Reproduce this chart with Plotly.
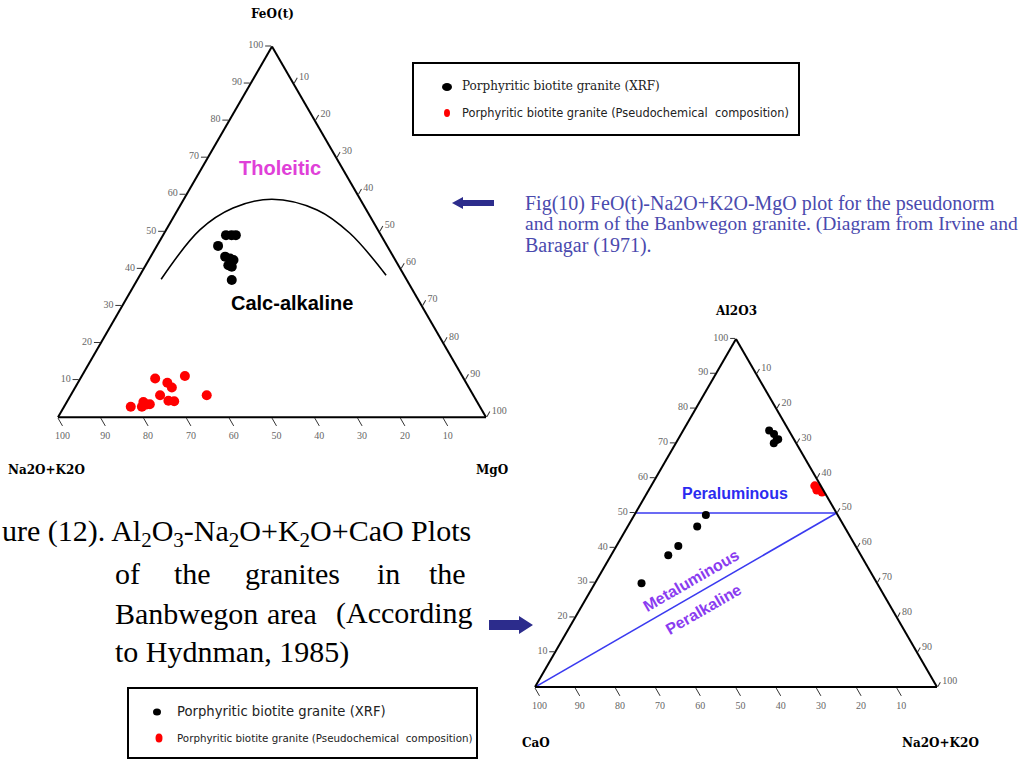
import plotly.graph_objects as go

W, H = 1032, 760

# ---------------- Diagram 1: FeO(t) - Na2O+K2O - MgO (AFM) ----------------
afm_xrf_feo = [49.1, 49.1, 49.1, 46.2, 43.3, 42.8, 42.4, 41.0, 40.6, 37.0]
afm_xrf_alk = [36.2, 34.9, 33.9, 39.5, 39.3, 38.4, 37.8, 39.7, 39.1, 40.9]
afm_xrf_mgo = [14.7, 16.0, 17.0, 14.3, 17.4, 18.8, 19.8, 19.3, 20.3, 22.1]

afm_ps_feo = [10.4, 9.3, 8.0, 11.1, 5.9, 5.9, 4.4, 4.3, 2.8, 4.1, 2.8, 3.4, 3.5]
afm_ps_alk = [72.1, 69.8, 69.4, 64.8, 62.3, 73.2, 72.0, 70.7, 81.6, 78.0, 79.0, 77.6, 76.8]
afm_ps_mgo = [17.5, 20.9, 22.6, 24.1, 31.8, 20.9, 23.6, 25.0, 15.6, 17.9, 18.2, 19.0, 19.7]

boundary_feo = [37.2, 50.5, 56.4, 58.8, 55.9, 49.6, 38.3]
boundary_alk = [57.3, 41.6, 30.9, 20.6, 11.5, 7.0, 4.2]
boundary_mgo = [5.5, 7.9, 12.7, 20.6, 32.6, 43.4, 57.5]

# ---------------- Diagram 2: Al2O3 - CaO - Na2O+K2O ----------------
acnk_xrf_al = [49.4, 46.1, 40.5, 37.9, 29.8, 73.7, 72.7, 71.0, 70.0, 71.2]
acnk_xrf_ca = [32.8, 36.6, 44.1, 47.9, 58.6, 4.9, 4.2, 4.4, 5.6, 3.9]
acnk_xrf_nk = [17.8, 17.3, 15.4, 14.2, 11.6, 21.4, 23.1, 24.6, 24.4, 24.9]

acnk_ps_al = [57.8, 56.9, 56.0, 56.6]
acnk_ps_ca = [1.5, 0.9, 0.6, 1.6]
acnk_ps_nk = [40.7, 42.2, 43.4, 41.8]

peralum_al = [50, 50]
peralum_ca = [50, 0]
peralum_nk = [0, 50]

peralk_al = [0, 50]
peralk_ca = [100, 0]
peralk_nk = [0, 50]

tick_values = [10, 20, 30, 40, 50, 60, 70, 80, 90, 100]

legend_labels = ["Porphyritic biotite granite (XRF)",
                 "Porphyritic biotite granite (Pseudochemical  composition)"]


def px(x):
    return x / W


def py(y):
    return 1 - y / H


def tern_axis(ticklen):
    return dict(
        title=dict(text=""), min=0,
        tickmode="array", tickvals=tick_values,
        ticks="outside", ticklen=ticklen, tickwidth=1, tickcolor="#333",
        tickfont=dict(family="Liberation Serif", size=10, color="#666"),
        showgrid=False, showline=True, linecolor="black", linewidth=2,
    )


fig = go.Figure()

# Diagram 1 traces
fig.add_trace(go.Scatterternary(
    a=boundary_feo, b=boundary_alk, c=boundary_mgo, mode="lines",
    line=dict(color="black", width=1.6, shape="spline"), subplot="ternary",
    hoverinfo="skip"))
fig.add_trace(go.Scatterternary(
    a=afm_xrf_feo, b=afm_xrf_alk, c=afm_xrf_mgo, mode="markers",
    marker=dict(color="black", size=10), subplot="ternary", name=legend_labels[0]))
fig.add_trace(go.Scatterternary(
    a=afm_ps_feo, b=afm_ps_alk, c=afm_ps_mgo, mode="markers",
    marker=dict(color="#ff0000", size=10), subplot="ternary", name=legend_labels[1]))

# Diagram 2 traces
for la, lb, lc in [(peralum_al, peralum_ca, peralum_nk), (peralk_al, peralk_ca, peralk_nk)]:
    fig.add_trace(go.Scatterternary(
        a=la, b=lb, c=lc, mode="lines", line=dict(color="#3a3af0", width=1.6),
        subplot="ternary2", hoverinfo="skip"))
fig.add_trace(go.Scatterternary(
    a=acnk_xrf_al, b=acnk_xrf_ca, c=acnk_xrf_nk, mode="markers",
    marker=dict(color="black", size=8), subplot="ternary2", name=legend_labels[0]))
fig.add_trace(go.Scatterternary(
    a=acnk_ps_al, b=acnk_ps_ca, c=acnk_ps_nk, mode="markers",
    marker=dict(color="#ff0000", size=9), subplot="ternary2", name=legend_labels[1]))

ann = []


def text(x, y, s, size, family="Liberation Serif", color="black", xanchor="center",
         angle=0, bold=False):
    if bold:
        s = "<b>" + s + "</b>"
    ann.append(dict(x=px(x), y=py(y), xref="paper", yref="paper", text=s,
                    showarrow=False, xanchor=xanchor, yanchor="middle",
                    textangle=angle, font=dict(family=family, size=size, color=color)))


# Axis titles
text(272, 14, "FeO(t)", 12, "DejaVu Serif", bold=True)
text(46, 470, "Na2O+K2O", 12, "DejaVu Serif", bold=True)
text(492, 470, "MgO", 12, "DejaVu Serif", bold=True)
text(736, 311, "Al2O3", 12, "DejaVu Serif", bold=True)
text(536, 743, "CaO", 12, "DejaVu Serif", bold=True)
text(940, 743, "Na2O+K2O", 12, "DejaVu Serif", bold=True)

# Region labels
text(280, 168, "Tholeitic", 20, "Liberation Sans", "#e040d8", bold=True)
text(292, 303, "Calc-alkaline", 20, "Liberation Sans", "black", bold=True)
text(735, 493, "Peraluminous", 16, "Liberation Sans", "#2b2bf0", bold=True)
text(691, 580, "Metaluminous", 16, "Liberation Sans", "#8a3cf0", angle=-30, bold=True)
text(703, 609, "Peralkaline", 16, "Liberation Sans", "#8a3cf0", angle=-30, bold=True)

# Caption of Fig. 10
cap_col = "#4a4aae"
text(523, 203, "Fig(10) FeO(t)-Na2O+K2O-MgO plot for the pseudonorm", 20,
     "Liberation Serif", cap_col, xanchor="left")
text(523, 224, "and norm of the Banbwegon granite. (Diagram from Irvine and", 19.5,
     "Liberation Serif", cap_col, xanchor="left")
text(523, 245, "Baragar (1971).", 20, "Liberation Serif", cap_col, xanchor="left")

# Caption of Figure 12 (justified)
text(0, 533, "ure (12). Al<sub>2</sub>O<sub>3</sub>-Na<sub>2</sub>O+K<sub>2</sub>O+CaO Plots",
     30, xanchor="left")
for word, x in [("of", 113), ("the", 172), ("granites", 243), ("in", 375), ("the", 427)]:
    text(x, 573, word, 30, xanchor="left")
for word, x in [("Banbwegon", 113), ("area", 265), ("(According", 334)]:
    text(x, 613, word, 30, xanchor="left")
text(113, 652, "to Hydnman, 1985)", 30, xanchor="left")

# Legend box 1 texts
text(460, 86, legend_labels[0], 12, "DejaVu Serif", "#222", xanchor="left")
text(460, 113, legend_labels[1], 11.4, "DejaVu Sans", "#222", xanchor="left")
# Legend box 2 texts
text(175, 711, legend_labels[0], 13.2, "DejaVu Sans", "#222", xanchor="left")
text(175, 738, legend_labels[1], 10.3, "DejaVu Sans", "#222", xanchor="left")

shapes = []


def rect(x0, y0, x1, y1):
    shapes.append(dict(type="rect", xref="paper", yref="paper", x0=px(x0), x1=px(x1),
                       y0=py(y1), y1=py(y0), line=dict(color="black", width=2)))


def dot(cx, cy, rx, ry, color):
    shapes.append(dict(type="circle", xref="paper", yref="paper",
                       x0=px(cx - rx), x1=px(cx + rx), y0=py(cy + ry), y1=py(cy - ry),
                       fillcolor=color, line=dict(width=0)))


def poly(points, color):
    path = "M " + " L ".join(f"{px(x):.5f},{py(y):.5f}" for x, y in points) + " Z"
    shapes.append(dict(type="path", xref="paper", yref="paper", path=path,
                       fillcolor=color, line=dict(width=0)))


rect(413, 63, 799, 135)
dot(447, 87, 5, 4, "black")
dot(447, 113, 3, 4, "#ff0000")
rect(128, 688, 477, 758)
dot(157, 712, 4, 3.5, "black")
dot(159, 738, 3.5, 4.5, "#ff0000")

arrow_col = "#2c2c8c"
# left-pointing arrow (Fig. 10)
poly([(452, 203), (463, 197), (463, 200), (494, 200), (494, 206), (463, 206), (463, 209)],
     arrow_col)
# right-pointing arrow (Fig. 12)
poly([(489, 620), (519, 620), (519, 616), (533, 625), (519, 634), (519, 630), (489, 630)],
     arrow_col)

fig.update_layout(
    width=W, height=H, margin=dict(l=0, r=0, t=0, b=0),
    paper_bgcolor="white", showlegend=False,
    ternary=dict(sum=100, bgcolor="white",
                 domain=dict(x=[58 / W, 486 / W], y=[0.445, 0.945]),
                 aaxis=tern_axis(6), baxis=tern_axis(9), caxis=tern_axis(6)),
    ternary2=dict(sum=100, bgcolor="white",
                  domain=dict(x=[535 / W, 937 / W], y=[0.0882, 0.5618]),
                  aaxis=tern_axis(5), baxis=tern_axis(9), caxis=tern_axis(5)),
    annotations=ann, shapes=shapes,
)

fig.write_html("out.html", config={"displayModeBar": False},
               post_script="document.body.style.margin='0';document.body.style.overflow='hidden';")
